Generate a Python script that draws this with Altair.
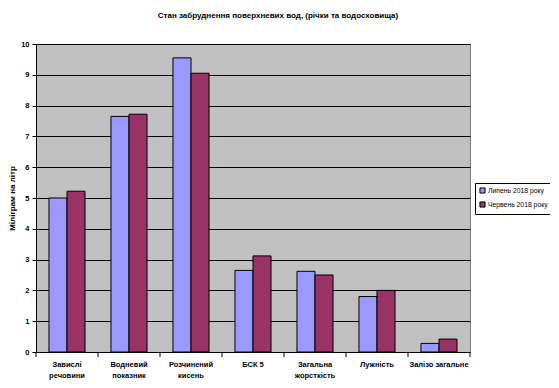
import altair as alt
import pandas as pd

categories = ["Завислі\nречовини", "Водневий\nпоказник", "Розчинений\nкисень", "БСК 5",
              "Загальна\nжорсткість", "Лужність", "Залізо загальне"]
series = ["Липень 2018 року", "Червень 2018 року"]
lipen = [5.0, 7.65, 9.55, 2.65, 2.62, 1.8, 0.28]
cherven = [5.22, 7.72, 9.05, 3.12, 2.5, 2.0, 0.42]

rows = []
for c, a, b in zip(categories, lipen, cherven):
    rows.append({"cat": c, "series": series[0], "value": a})
    rows.append({"cat": c, "series": series[1], "value": b})
df = pd.DataFrame(rows)
cats_df = pd.DataFrame({"cat": categories})

FONT = "Liberation Sans"

xscale = alt.Scale(domain=categories, paddingInner=0, paddingOuter=0)

bars = alt.Chart(df).mark_bar(stroke="black", strokeWidth=1).encode(
    x=alt.X("cat:N", sort=categories, scale=xscale, title=None,
            axis=alt.Axis(labelAngle=0, ticks=False, domainColor="black",
                          labelExpr="split(datum.label, '\\n')",
                          labelFont=FONT, labelFontSize=7.5, labelFontWeight="bold",
                          labelColor="black", labelPadding=8, labelLineHeight=11)),
    xOffset=alt.XOffset("series:N", sort=series,
                        scale=alt.Scale(paddingInner=0, paddingOuter=0.72)),
    y=alt.Y("value:Q", scale=alt.Scale(domain=[0, 10]),
            title="Міліграм на літр",
            axis=alt.Axis(values=list(range(11)), grid=True, gridColor="black",
                          gridOpacity=1, domainColor="black", tickColor="black",
                          tickSize=4, labelFont=FONT, labelFontSize=7.5,
                          labelFontWeight="bold", labelColor="black", labelPadding=3,
                          titleFont=FONT, titleFontSize=8, titleFontWeight="bold",
                          titleColor="black", titlePadding=4)),
    color=alt.Color("series:N", sort=series,
                    scale=alt.Scale(domain=series, range=["#9999FF", "#993366"]),
                    legend=alt.Legend(title=None, orient="none", legendX=439, legendY=139,
                                      symbolType="square", symbolSize=26,
                                      symbolStrokeColor="black", symbolStrokeWidth=1,
                                      labelFont=FONT, labelFontSize=6.8, labelColor="black",
                                      strokeColor="black", fillColor="white",
                                      padding=4, rowPadding=3, labelOffset=2)),
)

ticks = alt.Chart(cats_df).mark_rule(color="black").encode(
    x=alt.X("cat:N", sort=categories, scale=xscale, bandPosition=1),
    y=alt.value(308), y2=alt.value(313),
)
ticks0 = alt.Chart(cats_df).transform_filter(
    alt.datum.cat == categories[0]).mark_rule(color="black").encode(
    x=alt.X("cat:N", sort=categories, scale=xscale, bandPosition=0),
    y=alt.value(308), y2=alt.value(313),
)

chart = alt.layer(bars, ticks, ticks0).properties(
    width=434, height=308,
    autosize=alt.AutoSizeParams(type="none"),
    padding={"left": 28, "top": 36, "right": 80, "bottom": 28},
    title=alt.Title("Стан забруднення поверхневих вод, (річки та водосховища)",
                    font=FONT, fontSize=8, fontWeight="bold", color="black",
                    offset=20, dx=25),
).configure(background="white").configure_view(fill="#C0C0C0", stroke="#808080", strokeWidth=1)

chart.save("out.html", embed_options={"renderer": "svg", "actions": False})
